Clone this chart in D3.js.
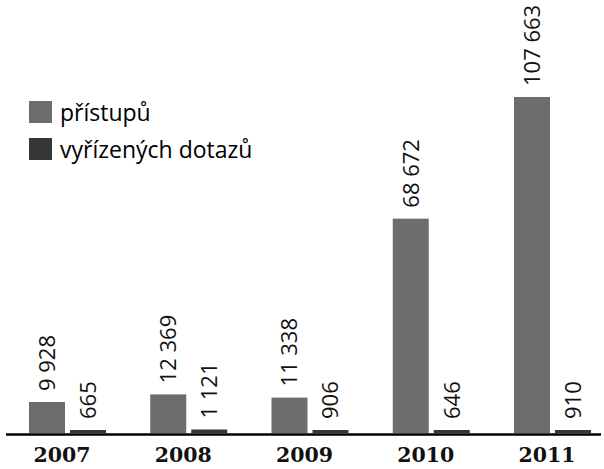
<!DOCTYPE html>
<html>
<head>
<meta charset="utf-8">
<script src="https://cdn.jsdelivr.net/npm/d3@7"></script>
<style>
  body { margin: 0; background: #fff; }
  .val { font-family: "Open Sans", sans-serif; font-size: 22px; fill: #111; }
  .year { font-family: "DejaVu Serif", serif; font-weight: bold; font-size: 20.5px; fill: #111; }
  .leg { font-family: "Open Sans", sans-serif; font-size: 23px; fill: #000; }
</style>
</head>
<body>
<div id="chart"></div>
<script>
var years = ["2007", "2008", "2009", "2010", "2011"];
var seriesNames = ["přístupů", "vyřízených dotazů"];
var pristupu = [9928, 12369, 11338, 68672, 107663];
var dotazu = [665, 1121, 906, 646, 910];
var colors = ["#6d6d6d", "#363636"];

var width = 604, height = 469;
var baseY = 433;

var svg = d3.select("#chart").append("svg")
  .attr("width", width)
  .attr("height", height);

var x0 = d3.scaleBand()
  .domain(years)
  .range([29, 591])
  .paddingInner(0.365)
  .paddingOuter(0);

var x1 = d3.scaleBand()
  .domain(seriesNames)
  .range([0, x0.bandwidth()])
  .paddingInner(0.122);

var y = d3.scaleLinear()
  .domain([0, 107663])
  .range([baseY, 97]);

var rows = years.map(function(yr, i){
  return { year: yr, values: [pristupu[i], dotazu[i]] };
});

var fmt = function(v){ return d3.format(",")(v).replace(/,/g, " "); };

var groups = svg.selectAll("g.grp")
  .data(rows)
  .enter().append("g")
    .attr("class", "grp")
    .attr("transform", function(d){ return "translate(" + x0(d.year) + ",0)"; });

groups.selectAll("rect")
  .data(function(d){ return d.values.map(function(v, j){ return { s: seriesNames[j], v: v, j: j }; }); })
  .enter().append("rect")
    .attr("x", function(d){ return x1(d.s); })
    .attr("width", x1.bandwidth())
    .attr("y", function(d){ return Math.min(y(d.v), baseY - 3); })
    .attr("height", function(d){ return baseY - Math.min(y(d.v), baseY - 3); })
    .attr("fill", function(d){ return colors[d.j]; });

groups.selectAll("text.val")
  .data(function(d){ return d.values.map(function(v, j){ return { s: seriesNames[j], v: v, j: j }; }); })
  .enter().append("text")
    .attr("class", "val")
    .attr("transform", function(d){
      var cx = x1(d.s) + x1.bandwidth() / 2;
      var ty = Math.min(y(d.v), baseY - 3) - 11;
      return "translate(" + cx + "," + ty + ") rotate(-90)";
    })
    .attr("dy", "0.36em")
    .attr("text-anchor", "start")
    .text(function(d){ return fmt(d.v); });

// axis line
svg.append("line")
  .attr("x1", 6)
  .attr("x2", 601)
  .attr("y1", baseY + 1.5)
  .attr("y2", baseY + 1.5)
  .attr("stroke", "#000")
  .attr("stroke-width", 2.5);

groups.append("text")
  .attr("class", "year")
  .attr("x", 33)
  .attr("y", 462)
  .attr("text-anchor", "middle")
  .text(function(d){ return d.year; });

// legend
var legend = svg.selectAll("g.leg")
  .data(seriesNames)
  .enter().append("g")
    .attr("transform", function(d, i){ return "translate(29," + (101 + i * 37) + ")"; });

legend.append("rect")
  .attr("width", 23)
  .attr("height", 22)
  .attr("fill", function(d, i){ return colors[i]; });

legend.append("text")
  .attr("class", "leg")
  .attr("x", 31)
  .attr("y", 20)
  .text(function(d){ return d; });
</script>
</body>
</html>
